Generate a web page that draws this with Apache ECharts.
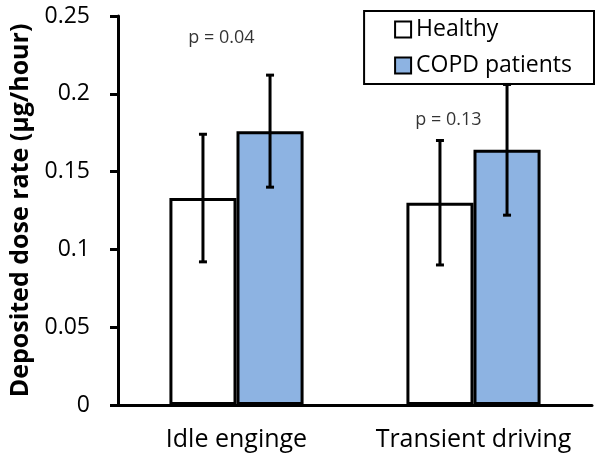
<!DOCTYPE html>
<html lang="en">
<head>
    <meta charset="UTF-8">
    <title>Deposited dose rate</title>
    <style>
        html, body { margin: 0; padding: 0; background: #fff; }
        #main { width: 600px; height: 466px; }
    </style>
</head>
<body>
<div id="main"></div>
<script src="https://cdn.jsdelivr.net/npm/echarts@6/dist/echarts.min.js"></script>
<script>
    const myChart = echarts.init(document.getElementById('main'));

    // categories and series
    const categories = ['Idle enginge', 'Transient driving'];
    const healthy = [0.133, 0.130];
    const copd = [0.176, 0.164];
    // error bar half-widths
    const healthyErr = [0.041, 0.040];
    const copdErr = [0.036, 0.042];
    // y tick labels
    const yTicks = [0, 0.05, 0.1, 0.15, 0.2, 0.25];
    // p-value notes
    const pLabels = ['p = 0.04', 'p = 0.13'];
    const pY = [0.236, 0.183];

    const font = "'Open Sans', 'Noto Sans', sans-serif";
    const barFrac = 0.283;

    // error bar data: [category, low, high, side]
    const errData = [];
    categories.forEach((c, i) => {
        errData.push([i, healthy[i] - healthyErr[i], healthy[i] + healthyErr[i], -1]);
        errData.push([i, copd[i] - copdErr[i], copd[i] + copdErr[i], 1]);
    });

    function renderErr(params, api) {
        const i = api.value(0);
        const side = api.value(3);
        const band = api.size([1, 0])[0];
        const lo = api.coord([i, api.value(1)]);
        const hi = api.coord([i, api.value(2)]);
        const x = lo[0] + side * band * barFrac / 2;
        const cap = 4;
        const style = { stroke: '#000', lineWidth: 3 };
        return {
            type: 'group',
            children: [
                { type: 'line', shape: { x1: x, y1: lo[1], x2: x, y2: hi[1] }, style },
                { type: 'line', shape: { x1: x - cap, y1: lo[1], x2: x + cap, y2: lo[1] }, style },
                { type: 'line', shape: { x1: x - cap, y1: hi[1], x2: x + cap, y2: hi[1] }, style }
            ]
        };
    }

    const option = {
        animation: false,
        backgroundColor: '#fff',
        grid: { left: 118, right: 8, top: 16, bottom: 61, outerBoundsMode: 'none', containLabel: false },
        legend: {
            data: ['Healthy', 'COPD patients'],
            orient: 'vertical',
            right: 6,
            top: 11,
            padding: [7, 22, 7, 30],
            itemGap: 13,
            itemWidth: 16,
            itemHeight: 16,
            backgroundColor: '#fff',
            borderColor: '#000',
            borderWidth: 2,
            borderRadius: 0,
            icon: 'rect',
            itemStyle: { borderColor: '#000', borderWidth: 2 },
            textStyle: { fontFamily: font, fontSize: 23, lineHeight: 22, color: '#000' }
        },
        xAxis: {
            type: 'category',
            data: categories,
            axisLine: { lineStyle: { color: '#000', width: 3 } },
            axisTick: { show: false },
            axisLabel: { interval: 0, fontFamily: font, fontSize: 25, color: '#000', margin: 22 }
        },
        yAxis: {
            type: 'value',
            min: yTicks[0],
            max: yTicks[yTicks.length - 1],
            interval: 0.05,
            name: 'Deposited dose rate (µg/hour)',
            nameLocation: 'middle',
            nameGap: 85,
            nameTextStyle: { fontFamily: font, fontSize: 25, fontWeight: 'bold', color: '#000' },
            splitLine: { show: false },
            axisLine: { show: true, lineStyle: { color: '#000', width: 3 } },
            axisTick: { show: true, length: 8, lineStyle: { color: '#000', width: 3 } },
            axisLabel: { fontFamily: font, fontSize: 23, color: '#000', margin: 28 }
        },
        series: [
            {
                name: 'Healthy',
                type: 'bar',
                data: healthy,
                barWidth: (barFrac * 100) + '%',
                barGap: '0%',
                itemStyle: { color: '#fff', borderColor: '#000', borderWidth: 3 }
            },
            {
                name: 'COPD patients',
                type: 'bar',
                data: copd,
                barWidth: (barFrac * 100) + '%',
                barGap: '0%',
                itemStyle: { color: '#8db3e2', borderColor: '#000', borderWidth: 3 }
            },
            {
                type: 'custom',
                data: errData,
                renderItem: renderErr,
                encode: { x: 0, y: [1, 2] },
                z: 5,
                silent: true
            },
            {
                type: 'scatter',
                symbolSize: 0,
                silent: true,
                data: pY.map((v, i) => ({ value: [i, v], name: pLabels[i] })),
                label: {
                    show: true,
                    position: 'inside',
                    formatter: p => p.name,
                    fontFamily: font,
                    fontSize: 18,
                    color: '#000'
                },
                labelLayout: function (p) {
                    return { dx: p.dataIndex === 0 ? -15 : -25 };
                }
            }
        ]
    };

    myChart.setOption(option);
</script>
</body>
</html>
